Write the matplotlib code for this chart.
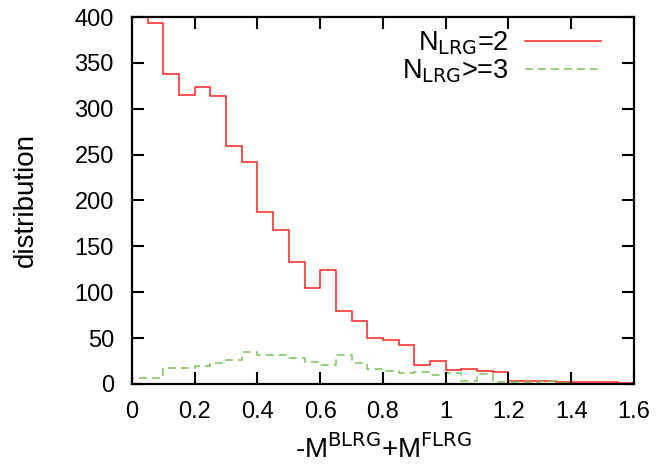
import numpy as np
import matplotlib
matplotlib.use("Agg")
import matplotlib.pyplot as plt

plt.rcParams['font.family'] = ['Liberation Sans', 'DejaVu Sans']

# bin edges, width 0.05
edges = np.round(np.arange(0, 1.6001, 0.05), 2)

# N_LRG = 2 (first bin is above the plot range)
n2 = [420, 393, 338, 315, 324, 314, 259, 242, 187, 168,
      133, 105, 124, 80, 69, 50, 48, 42, 21, 25,
      15, 16, 14, 13, 3, 3, 3, 2, 2, 2,
      2, 1]

# N_LRG >= 3
n3 = [7, 7, 17, 17, 20, 23, 26, 35, 31.5, 31.5,
      28, 24, 21, 31.5, 22.5, 16, 14, 12, 13, 10,
      12, 3, 11, 2, 2, 2, 3.5, 1.5, 0, 0,
      0, 0]

fig = plt.figure(figsize=(6.57, 4.66), dpi=100)
ax = fig.add_axes([0.2009, 0.176, 0.764, 0.7875])

ax.stairs(n2, edges, color='#ff2020', lw=1.1, label=r'N$_{\rm LRG}$=2')
ax.stairs(n3, edges, color='#7cc45a', lw=1.1, ls=(0, (5.2, 3.3)),
          label=r'N$_{\rm LRG}$>=3')

ax.set_xlim(0, 1.6)
ax.set_ylim(0, 400)
ax.set_xticks(np.arange(0, 1.61, 0.2))
ax.set_xticklabels(['0', '0.2', '0.4', '0.6', '0.8', '1', '1.2', '1.4', '1.6'])
ax.set_yticks(np.arange(0, 401, 50))

ax.tick_params(direction='in', length=8.5, width=1.5, top=True, right=True,
               labelsize=17)
ax.tick_params(axis='y', pad=13)
ax.tick_params(axis='x', pad=12)
for s in ax.spines.values():
    s.set_linewidth(1.6)

ax.set_xlabel(r'-M$^{\rm BLRG}$+M$^{\rm FLRG}$', fontsize=20, labelpad=8)
ax.set_ylabel('distribution', fontsize=20, labelpad=26)

leg = ax.legend(loc='upper right', bbox_to_anchor=(0.956, 0.995),
                borderaxespad=0, fontsize=19.5, frameon=False,
                markerfirst=False, handlelength=2.8, handletextpad=0.6,
                labelspacing=0.0)
for t in leg.get_texts():
    t.set_ha('right')

fig.savefig('out.png', dpi=100)
